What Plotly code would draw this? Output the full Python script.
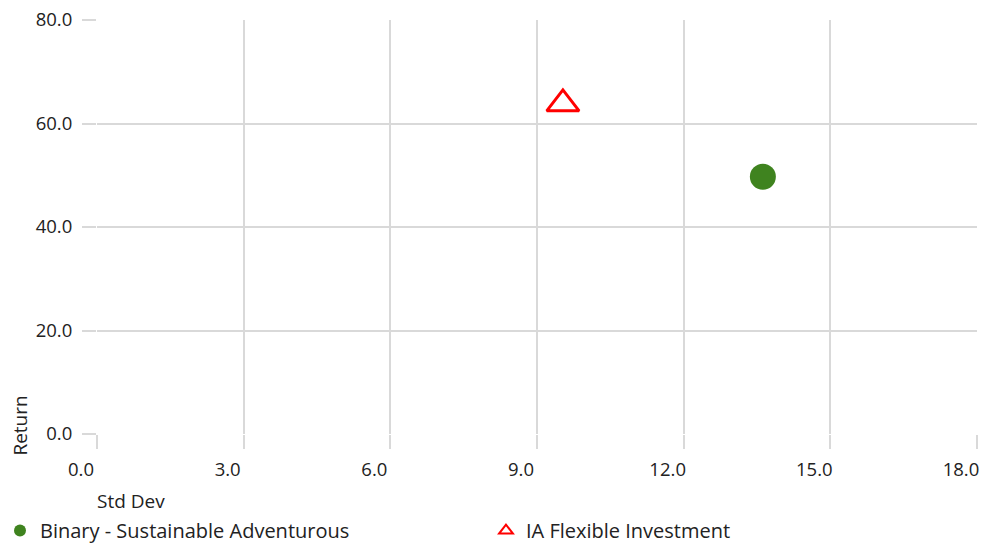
import plotly.graph_objects as go

series_names = ["Binary - Sustainable Adventurous", "IA Flexible Investment"]
std_dev = [13.62, 9.53]
returns = [49.7, 63.8]
symbols = ["circle", "triangle-up-open"]
colors = ["#3f831f", "#ff0000"]
sizes = [26, 28]
legend_ids = ["legend", "legend2"]

x_ticks = [0, 3, 6, 9, 12, 15, 18]
y_ticks = [0, 20, 40, 60, 80]

font_family = "Open Sans, Noto Sans, sans-serif"
text_color = "#222222"
grid_color = "#d9d9d9"

fig = go.Figure()
for name, xv, yv, sym, col, sz, lg in zip(series_names, std_dev, returns, symbols, colors, sizes, legend_ids):
    fig.add_trace(go.Scatter(
        x=[xv], y=[yv], mode="markers", name=name, legend=lg,
        marker=dict(symbol=sym, color=col, size=sz,
                    line=dict(width=3 if "open" in sym else 0, color=col)),
    ))

legend_common = dict(orientation="h", xref="container", yref="container",
                     yanchor="middle", xanchor="left",
                     itemsizing="constant", font=dict(size=20, color=text_color),
                     bgcolor="rgba(0,0,0,0)", tracegroupgap=0)

fig.update_layout(
    width=991, height=547,
    margin=dict(l=97, r=14, t=20, b=113, autoexpand=False),
    paper_bgcolor="white", plot_bgcolor="white",
    font=dict(family=font_family, size=18.5, color=text_color),
    showlegend=True,
    legend=dict(x=0.0, y=0.03, **legend_common),
    legend2=dict(x=0.4904, y=0.03, **legend_common),
    xaxis=dict(range=[0, 18], tickvals=x_ticks,
               ticktext=[f"{v:.1f}" for v in x_ticks],
               showgrid=True, gridcolor=grid_color, gridwidth=2,
               zeroline=False, showline=False,
               ticks="outside", ticklen=14, tickwidth=2, tickcolor=grid_color,
               ticklabelstandoff=5, ticklabelshift=-16,
               ticklabeloverflow="allow", fixedrange=True),
    yaxis=dict(range=[0, 80], tickvals=y_ticks,
               ticktext=[f"{v:.1f}" for v in y_ticks],
               showgrid=True, gridcolor=grid_color, gridwidth=2,
               zeroline=False, showline=False,
               ticks="outside", ticklen=14, tickwidth=2, tickcolor=grid_color,
               ticklabelstandoff=6, fixedrange=True),
    annotations=[
        dict(text="Std Dev", xref="paper", yref="paper", x=-0.002, y=-0.163,
             xanchor="left", yanchor="middle", showarrow=False,
             font=dict(size=19, color=text_color)),
        dict(text="Return", xref="paper", yref="paper", x=-0.088, y=-0.058,
             xanchor="center", yanchor="bottom", textangle=-90, showarrow=False,
             font=dict(size=19, color=text_color)),
    ],
)

fig.write_html("out.html")
